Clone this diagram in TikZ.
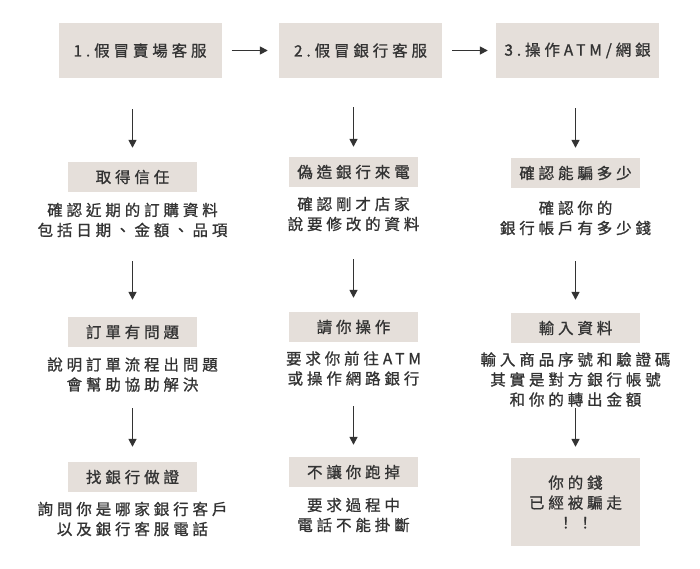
\documentclass[tikz,border=0pt]{standalone}
\usepackage{fontspec}
\setmainfont[LetterSpace=25, FakeBold=1]{Noto Sans CJK TC}
\usetikzlibrary{arrows.meta}

\definecolor{boxgray}{HTML}{E5DFDA}
\definecolor{ink}{HTML}{333333}

\tikzset{
  box/.style={fill=boxgray, text=ink, inner sep=0pt, minimum width=129pt, minimum height=30pt},
  head/.style={box, minimum width=163pt, minimum height=55pt},
  desc/.style={text=ink, align=center, inner sep=0pt},
  flow/.style={draw=ink, line width=1.6pt, -{Triangle[length=8pt,width=8pt]}}
}

\begin{document}
\begin{tikzpicture}[x=1pt, y=-1pt, font=\fontsize{15.5}{20}\selectfont]
\useasboundingbox (0,0) rectangle (700,568);
% top row
\node[head] (top1) at (140,50.5) {1.假冒賣場客服};
\node[head] (top2) at (360.5,50.5) {2.假冒銀行客服};
\node[head] (top3) at (577.5,50.5) {3.操作ATM/網銀};
% column 1
\node[box] (lab1a) at (132.5,177) {取得信任};
\node[desc] (txt1a) at (132.5,220) {確認近期的訂購資料\\包括日期、金額、品項};
\node[box] (lab1b) at (132.5,332) {訂單有問題};
\node[desc] (txt1b) at (132.5,374.5) {說明訂單流程出問題\\會幫助協助解決};
\node[box] (lab1c) at (132.5,477) {找銀行做證};
\node[desc] (txt1c) at (132.5,519) {詢問你是哪家銀行客戶\\以及銀行客服電話};
% column 2
\node[box] (lab2a) at (353.5,172) {偽造銀行來電};
\node[desc] (txt2a) at (353.5,214) {確認剛才店家\\說要修改的資料};
\node[box] (lab2b) at (353.5,327) {請你操作};
\node[desc] (txt2b) at (353.5,368.5) {要求你前往ATM\\或操作網路銀行};
\node[box] (lab2c) at (353.5,472) {不讓你跑掉};
\node[desc] (txt2c) at (353.5,515) {要求過程中\\電話不能掛斷};
% column 3
\node[box] (lab3a) at (575.5,173) {確認能騙多少};
\node[desc] (txt3a) at (575.5,218) {確認你的\\銀行帳戶有多少錢};
\node[box] (lab3b) at (575.5,328) {輸入資料};
\node[desc] (txt3b) at (575.5,379.5) {輸入商品序號和驗證碼\\其實是對方銀行帳號\\和你的轉出金額};
\node[box, minimum height=88pt, align=center] (lab3c) at (575.5,502) {你的錢\\已經被騙走\\！！};
% arrows
\draw[flow, shorten <=10pt, shorten >=11pt] (top1) -- (top2);
\draw[flow, shorten <=10pt, shorten >=8pt] (top2) -- (top3);
\foreach \a/\b/\s/\e in {top1/lab1a/31/14, lab1a/lab1b/69/17, lab1b/lab1c/61/15,
                         top2/lab2a/29/10, lab2a/lab2b/72/14, lab2b/lab2c/64/12,
                         top3/lab3a/30/10, lab3a/lab3b/73/13, lab3b/lab3c/65/11}
  \draw[flow, shorten <=\s pt, shorten >=\e pt] (\a.south -| \b) -- (\b.north);
\end{tikzpicture}
\end{document}
